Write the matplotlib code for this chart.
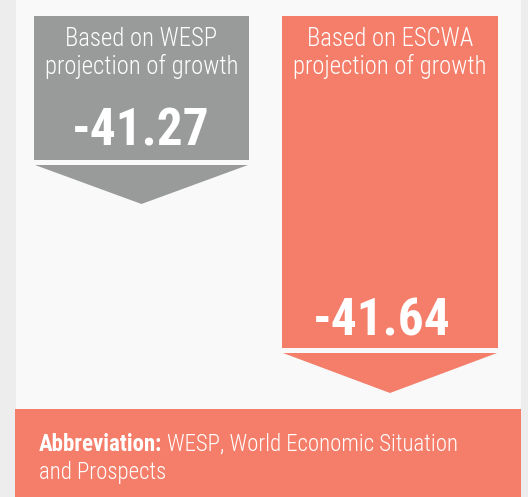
import matplotlib
matplotlib.use("Agg")
import matplotlib.pyplot as plt
from matplotlib.patches import Rectangle, Polygon
from matplotlib import font_manager

# data
labels = ["Based on WESP\nprojection of growth", "Based on ESCWA\nprojection of growth"]
values = [-41.27, -41.64]
colors = ["#999b9b", "#f47e6a"]
note_bold = "Abbreviation:"
note_text = "WESP, World Economic Situation\nand Prospects"

# pick a narrow font if there is one
installed = {f.name for f in font_manager.fontManager.ttflist}
font = "DejaVu Sans"
for cand in ["Roboto Condensed", "Liberation Sans Narrow", "DejaVu Sans Condensed", "Open Sans Condensed"]:
    if cand in installed:
        font = cand
        break

W, H = 528, 497
fig = plt.figure(figsize=(W / 100, H / 100), dpi=100)
fig.patch.set_facecolor("#eeeded")
ax = fig.add_axes([0, 0, 1, 1])
ax.set_xlim(0, W)
ax.set_ylim(H, 0)
ax.axis("off")

# panel background
ax.add_patch(Rectangle((16, 0), 505, 409, color="#f9f9f9", lw=0))

# box layout: (left, right, box bottom, arrow tip, value x, value y)
layout = [(34, 249, 160, 204, 141, 131), (282, 498, 348, 393, 382, 321)]

for lab, val, col, (x0, x1, yb, tip, vx, vy) in zip(labels, values, colors, layout):
    ax.add_patch(Rectangle((x0, 16), x1 - x0, yb - 16, color=col, lw=0))
    ax.add_patch(Polygon([(x0 + 1, yb + 5), (x1 - 1, yb + 5), ((x0 + x1) / 2, tip)],
                         closed=True, color=col, lw=0))
    ax.text((x0 + x1) / 2, 53, lab, ha="center", va="center", color="white",
            fontsize=17.8, fontweight="light", family=font, linespacing=1.12)
    ax.text(vx, vy, f"{val:.2f}", ha="center", va="center", color="white",
            fontsize=37, fontweight="bold", family=font)

# footer
ax.add_patch(Rectangle((15, 409), 506, 88, color=colors[1], lw=0))
t = ax.text(39, 451, note_bold, ha="left", va="baseline", color="white",
            fontsize=16.5, fontweight="bold", family=font)
fig.canvas.draw()
bb = t.get_window_extent()
x_after = bb.x1 + 5
ax.text(x_after, 451, note_text.split("\n")[0], ha="left", va="baseline", color="white",
        fontsize=16.5, fontweight="light", family=font)
ax.text(39, 479, note_text.split("\n")[1], ha="left", va="baseline", color="white",
        fontsize=16.5, fontweight="light", family=font)

fig.savefig("out.png", dpi=100, facecolor=fig.get_facecolor())
